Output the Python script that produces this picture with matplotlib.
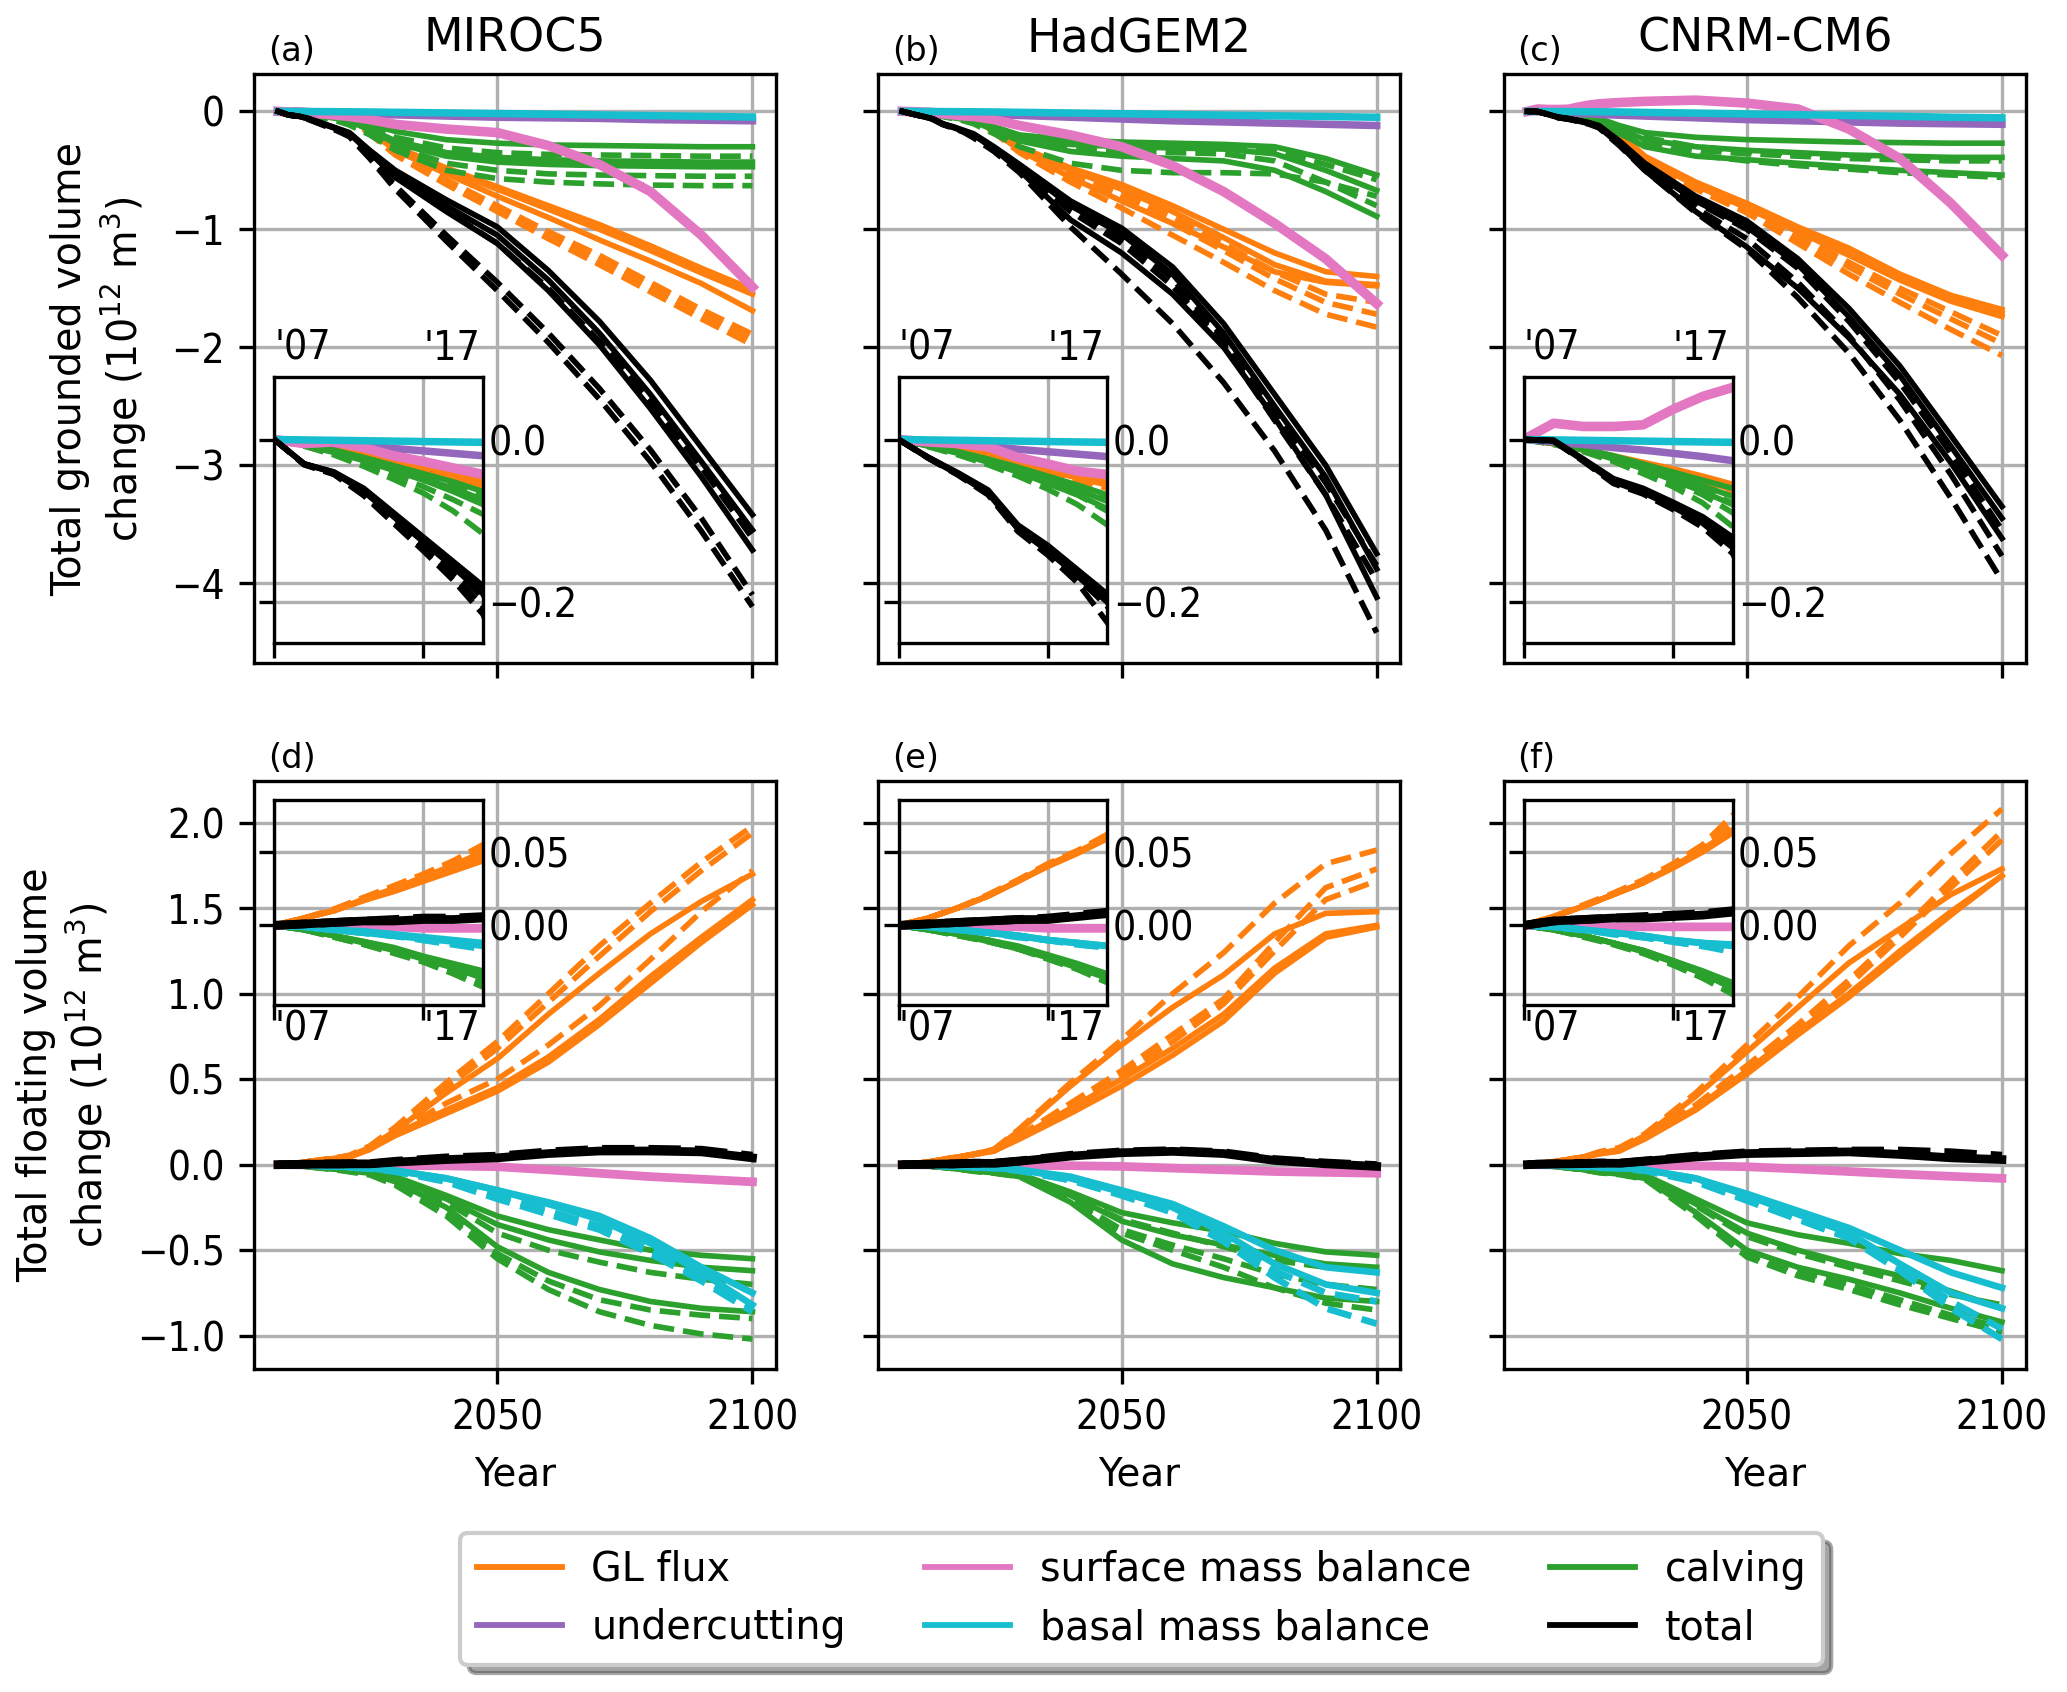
import matplotlib
matplotlib.use("Agg")
import matplotlib.pyplot as plt
from matplotlib import font_manager as fm

plt.rcParams['font.family'] = ['DejaVu Sans']

# ---------------- data ----------------
years = [2007, 2009, 2011, 2013, 2015, 2017, 2019, 2021, 2025, 2030,
         2040, 2050, 2060, 2070, 2080, 2090, 2100]
models = ['MIROC5', 'HadGEM2', 'CNRM-CM6']
letters = ['(a)', '(b)', '(c)', '(d)', '(e)', '(f)']
legend_labels = ['GL flux', 'undercutting', 'surface mass balance',
                 'basal mass balance', 'calving', 'total']

main_xticks = [2050, 2100]
main_xticklabels = ['2050', '2100']
top_yticks = [0, -1, -2, -3, -4]
top_yticklabels = ['0', '\u22121', '\u22122', '\u22123', '\u22124']
bot_yticks = [-1.0, -0.5, 0.0, 0.5, 1.0, 1.5, 2.0]
bot_yticklabels = ['\u22121.0', '\u22120.5', '0.0', '0.5', '1.0', '1.5', '2.0']
inset_xticks = [2007, 2017]
inset_xticklabels = ["'07", "'17"]
top_inset_yticks = [0.0, -0.2]
top_inset_yticklabels = ['0.0', '\u22120.2']
bot_inset_yticks = [0.0, 0.05]
bot_inset_yticklabels = ['0.00', '0.05']

# ---- (a) MIROC5 grounded ----
a_total_solid = [
    [0, -0.03, -0.04, -0.06, -0.09, -0.12, -0.15, -0.18, -0.33, -0.50, -0.75, -0.98, -1.35, -1.78, -2.28, -2.85, -3.42],
    [0, -0.03, -0.04, -0.062, -0.092, -0.123, -0.153, -0.185, -0.34, -0.53, -0.80, -1.05, -1.43, -1.88, -2.40, -2.97, -3.55],
    [0, -0.03, -0.041, -0.064, -0.095, -0.126, -0.157, -0.19, -0.35, -0.56, -0.85, -1.12, -1.52, -1.98, -2.52, -3.10, -3.72]]
a_total_dashed = [
    [0, -0.03, -0.041, -0.065, -0.096, -0.128, -0.16, -0.195, -0.35, -0.55, -0.84, -1.12, -1.50, -1.95, -2.46, -3.02, -3.62],
    [0, -0.031, -0.042, -0.067, -0.10, -0.133, -0.168, -0.205, -0.38, -0.63, -1.05, -1.45, -1.88, -2.35, -2.87, -3.45, -4.10],
    [0, -0.031, -0.043, -0.069, -0.103, -0.137, -0.173, -0.215, -0.40, -0.66, -1.10, -1.52, -1.96, -2.44, -2.97, -3.56, -4.20]]
a_gl_solid = [
    [0, -0.004, -0.010, -0.017, -0.024, -0.031, -0.040, -0.050, -0.15, -0.30, -0.48, -0.64, -0.80, -0.96, -1.14, -1.33, -1.51],
    [0, -0.004, -0.010, -0.018, -0.026, -0.034, -0.043, -0.053, -0.16, -0.31, -0.50, -0.66, -0.83, -1.00, -1.18, -1.37, -1.55],
    [0, -0.004, -0.011, -0.019, -0.027, -0.036, -0.046, -0.057, -0.17, -0.33, -0.53, -0.72, -0.90, -1.09, -1.27, -1.46, -1.69]]
a_gl_dashed = [
    [0, -0.004, -0.011, -0.019, -0.028, -0.037, -0.048, -0.060, -0.18, -0.35, -0.58, -0.80, -1.02, -1.22, -1.45, -1.68, -1.89],
    [0, -0.004, -0.011, -0.020, -0.029, -0.038, -0.049, -0.061, -0.185, -0.36, -0.60, -0.83, -1.05, -1.26, -1.49, -1.72, -1.93],
    [0, -0.004, -0.012, -0.020, -0.030, -0.039, -0.050, -0.062, -0.19, -0.37, -0.62, -0.85, -1.08, -1.30, -1.53, -1.76, -1.98]]
a_calv_solid = [
    [0, -0.006, -0.013, -0.022, -0.032, -0.042, -0.052, -0.064, -0.11, -0.17, -0.24, -0.27, -0.285, -0.29, -0.295, -0.30, -0.30],
    [0, -0.007, -0.015, -0.025, -0.036, -0.048, -0.060, -0.074, -0.15, -0.25, -0.35, -0.39, -0.41, -0.42, -0.425, -0.43, -0.43],
    [0, -0.007, -0.016, -0.026, -0.038, -0.050, -0.064, -0.080, -0.16, -0.27, -0.38, -0.43, -0.45, -0.46, -0.465, -0.47, -0.47]]
a_calv_dashed = [
    [0, -0.006, -0.014, -0.024, -0.035, -0.046, -0.058, -0.070, -0.13, -0.22, -0.31, -0.35, -0.365, -0.37, -0.375, -0.38, -0.38],
    [0, -0.008, -0.018, -0.030, -0.044, -0.058, -0.074, -0.092, -0.18, -0.30, -0.44, -0.50, -0.53, -0.54, -0.545, -0.55, -0.55],
    [0, -0.008, -0.019, -0.033, -0.049, -0.066, -0.088, -0.116, -0.20, -0.33, -0.50, -0.57, -0.60, -0.615, -0.625, -0.63, -0.63]]
a_smb = [0, -0.005, -0.003, -0.010, -0.020, -0.027, -0.035, -0.043, -0.07, -0.11, -0.15, -0.18, -0.29, -0.45, -0.68, -1.05, -1.49]
a_uc = [0, -0.002, -0.005, -0.008, -0.011, -0.014, -0.017, -0.020, -0.025, -0.03, -0.04, -0.05, -0.055, -0.06, -0.07, -0.075, -0.08]
a_bmb = [0, -0.0005, -0.001, -0.0015, -0.002, -0.0025, -0.003, -0.0035, -0.005, -0.008, -0.013, -0.018, -0.024, -0.03, -0.036, -0.042, -0.048]

# ---- (b) HadGEM2 grounded ----
b_total_solid = [
    [0, -0.022, -0.041, -0.062, -0.105, -0.130, -0.160, -0.190, -0.30, -0.45, -0.76, -0.99, -1.32, -1.80, -2.40, -3.00, -3.75],
    [0, -0.022, -0.042, -0.064, -0.108, -0.134, -0.165, -0.196, -0.31, -0.47, -0.80, -1.04, -1.38, -1.88, -2.50, -3.10, -3.88],
    [0, -0.023, -0.043, -0.066, -0.110, -0.137, -0.168, -0.200, -0.32, -0.50, -0.92, -1.20, -1.55, -2.00, -2.60, -3.25, -4.12]]
b_total_dashed = [
    [0, -0.022, -0.042, -0.064, -0.108, -0.135, -0.167, -0.200, -0.31, -0.47, -0.80, -1.07, -1.42, -1.92, -2.55, -3.15, -3.85],
    [0, -0.023, -0.043, -0.066, -0.110, -0.138, -0.170, -0.205, -0.32, -0.48, -0.85, -1.12, -1.48, -1.98, -2.62, -3.25, -3.98],
    [0, -0.023, -0.044, -0.068, -0.113, -0.142, -0.176, -0.225, -0.34, -0.52, -0.98, -1.38, -1.80, -2.30, -2.88, -3.55, -4.42]]
b_gl_solid = [
    [0, -0.005, -0.011, -0.018, -0.026, -0.035, -0.043, -0.050, -0.15, -0.30, -0.48, -0.62, -0.80, -1.00, -1.20, -1.36, -1.40],
    [0, -0.005, -0.011, -0.019, -0.028, -0.037, -0.045, -0.053, -0.16, -0.31, -0.50, -0.66, -0.85, -1.07, -1.30, -1.44, -1.47],
    [0, -0.005, -0.012, -0.020, -0.029, -0.039, -0.047, -0.056, -0.17, -0.33, -0.56, -0.76, -0.95, -1.15, -1.36, -1.45, -1.48]]
b_gl_dashed = [
    [0, -0.005, -0.011, -0.019, -0.028, -0.038, -0.046, -0.055, -0.16, -0.32, -0.52, -0.70, -0.90, -1.12, -1.36, -1.55, -1.62],
    [0, -0.005, -0.012, -0.020, -0.029, -0.039, -0.048, -0.057, -0.17, -0.33, -0.55, -0.74, -0.95, -1.18, -1.42, -1.62, -1.72],
    [0, -0.005, -0.012, -0.021, -0.030, -0.040, -0.050, -0.060, -0.18, -0.35, -0.60, -0.82, -1.05, -1.28, -1.52, -1.72, -1.83]]
b_calv_solid = [
    [0, -0.007, -0.015, -0.024, -0.034, -0.045, -0.056, -0.068, -0.13, -0.20, -0.24, -0.26, -0.27, -0.28, -0.30, -0.40, -0.54],
    [0, -0.008, -0.016, -0.026, -0.037, -0.050, -0.062, -0.076, -0.14, -0.22, -0.28, -0.30, -0.31, -0.32, -0.36, -0.50, -0.67],
    [0, -0.008, -0.017, -0.028, -0.040, -0.054, -0.068, -0.085, -0.16, -0.25, -0.34, -0.38, -0.40, -0.42, -0.50, -0.68, -0.89]]
b_calv_dashed = [
    [0, -0.007, -0.016, -0.025, -0.036, -0.048, -0.060, -0.072, -0.135, -0.21, -0.26, -0.28, -0.29, -0.30, -0.33, -0.45, -0.58],
    [0, -0.008, -0.017, -0.028, -0.040, -0.054, -0.068, -0.088, -0.15, -0.24, -0.31, -0.34, -0.35, -0.36, -0.42, -0.60, -0.80],
    [0, -0.009, -0.019, -0.031, -0.045, -0.061, -0.080, -0.105, -0.19, -0.30, -0.44, -0.50, -0.52, -0.52, -0.53, -0.60, -0.72]]
b_smb = [0, -0.003, -0.005, -0.009, -0.022, -0.030, -0.039, -0.043, -0.07, -0.12, -0.20, -0.30, -0.46, -0.68, -0.95, -1.25, -1.63]
b_uc = [0, -0.002, -0.005, -0.008, -0.012, -0.015, -0.018, -0.021, -0.028, -0.035, -0.05, -0.065, -0.08, -0.09, -0.10, -0.11, -0.12]
b_bmb = [0, -0.0005, -0.001, -0.0015, -0.002, -0.0025, -0.003, -0.0035, -0.005, -0.008, -0.014, -0.02, -0.026, -0.032, -0.038, -0.044, -0.05]

# ---- (c) CNRM-CM6 grounded ----
c_total_solid = [
    [0, -0.001, -0.024, -0.048, -0.060, -0.077, -0.095, -0.120, -0.25, -0.44, -0.72, -0.93, -1.25, -1.67, -2.16, -2.75, -3.35],
    [0, -0.001, -0.025, -0.050, -0.062, -0.079, -0.098, -0.125, -0.26, -0.46, -0.76, -0.98, -1.30, -1.74, -2.24, -2.84, -3.45],
    [0, -0.002, -0.026, -0.052, -0.065, -0.083, -0.103, -0.133, -0.28, -0.50, -0.85, -1.15, -1.50, -1.92, -2.40, -2.98, -3.62]]
c_total_dashed = [
    [0, -0.001, -0.025, -0.050, -0.062, -0.080, -0.100, -0.128, -0.26, -0.46, -0.77, -1.00, -1.33, -1.78, -2.30, -2.90, -3.55],
    [0, -0.002, -0.026, -0.052, -0.064, -0.082, -0.103, -0.133, -0.27, -0.48, -0.82, -1.08, -1.45, -1.90, -2.45, -3.08, -3.77],
    [0, -0.002, -0.027, -0.054, -0.067, -0.086, -0.108, -0.140, -0.29, -0.50, -0.86, -1.17, -1.58, -2.05, -2.62, -3.28, -3.98]]
c_gl_solid = [
    [0, -0.005, -0.012, -0.020, -0.028, -0.036, -0.045, -0.055, -0.18, -0.38, -0.60, -0.78, -0.98, -1.16, -1.38, -1.56, -1.68],
    [0, -0.005, -0.012, -0.021, -0.029, -0.038, -0.047, -0.058, -0.19, -0.39, -0.62, -0.80, -1.00, -1.20, -1.40, -1.58, -1.71],
    [0, -0.005, -0.013, -0.022, -0.031, -0.040, -0.050, -0.062, -0.19, -0.40, -0.63, -0.82, -1.02, -1.22, -1.43, -1.61, -1.74]]
c_gl_dashed = [
    [0, -0.005, -0.013, -0.022, -0.031, -0.041, -0.051, -0.063, -0.19, -0.39, -0.62, -0.82, -1.05, -1.28, -1.50, -1.70, -1.90],
    [0, -0.005, -0.013, -0.023, -0.032, -0.042, -0.053, -0.065, -0.20, -0.40, -0.64, -0.84, -1.08, -1.32, -1.55, -1.76, -1.97],
    [0, -0.006, -0.014, -0.024, -0.034, -0.044, -0.055, -0.068, -0.21, -0.42, -0.66, -0.86, -1.12, -1.38, -1.62, -1.85, -2.07]]
c_calv_solid = [
    [0, -0.004, -0.011, -0.020, -0.030, -0.040, -0.050, -0.060, -0.12, -0.18, -0.22, -0.24, -0.25, -0.26, -0.265, -0.27, -0.27],
    [0, -0.004, -0.012, -0.022, -0.033, -0.045, -0.057, -0.070, -0.15, -0.24, -0.30, -0.33, -0.35, -0.37, -0.38, -0.39, -0.39],
    [0, -0.005, -0.013, -0.024, -0.036, -0.050, -0.064, -0.080, -0.18, -0.30, -0.38, -0.41, -0.44, -0.47, -0.50, -0.52, -0.54]]
c_calv_dashed = [
    [0, -0.005, -0.013, -0.023, -0.035, -0.048, -0.062, -0.078, -0.15, -0.22, -0.30, -0.34, -0.36, -0.38, -0.39, -0.40, -0.40],
    [0, -0.005, -0.014, -0.025, -0.038, -0.052, -0.068, -0.090, -0.16, -0.25, -0.33, -0.36, -0.38, -0.40, -0.41, -0.42, -0.42],
    [0, -0.006, -0.015, -0.027, -0.042, -0.058, -0.078, -0.107, -0.19, -0.28, -0.37, -0.42, -0.46, -0.49, -0.52, -0.54, -0.56]]
c_smb = [0, 0.020, 0.016, 0.016, 0.018, 0.037, 0.053, 0.064, 0.075, 0.085, 0.095, 0.07, 0.02, -0.15, -0.40, -0.78, -1.22]
c_uc = [0, -0.003, -0.006, -0.010, -0.013, -0.017, -0.021, -0.026, -0.033, -0.04, -0.055, -0.07, -0.08, -0.09, -0.10, -0.105, -0.11]
c_bmb = [0, -0.0005, -0.001, -0.0015, -0.002, -0.0025, -0.003, -0.0035, -0.005, -0.009, -0.015, -0.022, -0.028, -0.035, -0.042, -0.05, -0.055]

# ---- (d) MIROC5 floating ----
d_gl_solid = [
    [0, 0.005, 0.010, 0.018, 0.025, 0.033, 0.041, 0.050, 0.10, 0.20, 0.42, 0.62, 0.88, 1.12, 1.35, 1.54, 1.70],
    [0, 0.005, 0.010, 0.017, 0.024, 0.031, 0.038, 0.046, 0.09, 0.18, 0.32, 0.45, 0.63, 0.85, 1.10, 1.33, 1.55],
    [0, 0.005, 0.010, 0.017, 0.023, 0.030, 0.037, 0.044, 0.09, 0.17, 0.30, 0.43, 0.60, 0.82, 1.06, 1.30, 1.52]]
d_gl_dashed = [
    [0, 0.005, 0.011, 0.019, 0.027, 0.035, 0.044, 0.055, 0.11, 0.22, 0.48, 0.72, 1.00, 1.28, 1.53, 1.77, 1.98],
    [0, 0.005, 0.011, 0.019, 0.026, 0.034, 0.043, 0.053, 0.10, 0.21, 0.45, 0.68, 0.95, 1.22, 1.48, 1.72, 1.94],
    [0, 0.005, 0.010, 0.018, 0.025, 0.032, 0.040, 0.048, 0.09, 0.19, 0.36, 0.50, 0.70, 0.93, 1.20, 1.48, 1.72]]
d_calv_solid = [
    [0, -0.003, -0.007, -0.011, -0.015, -0.021, -0.026, -0.031, -0.04, -0.07, -0.18, -0.30, -0.38, -0.44, -0.50, -0.53, -0.55],
    [0, -0.003, -0.007, -0.011, -0.016, -0.022, -0.027, -0.033, -0.045, -0.08, -0.20, -0.35, -0.44, -0.51, -0.56, -0.60, -0.62],
    [0, -0.003, -0.007, -0.012, -0.017, -0.023, -0.029, -0.036, -0.05, -0.10, -0.25, -0.48, -0.63, -0.73, -0.80, -0.84, -0.86]]
d_calv_dashed = [
    [0, -0.003, -0.007, -0.012, -0.017, -0.023, -0.029, -0.036, -0.05, -0.09, -0.22, -0.40, -0.50, -0.57, -0.63, -0.67, -0.70],
    [0, -0.003, -0.008, -0.013, -0.018, -0.024, -0.031, -0.039, -0.055, -0.11, -0.28, -0.52, -0.68, -0.79, -0.85, -0.88, -0.90],
    [0, -0.003, -0.008, -0.013, -0.019, -0.025, -0.033, -0.042, -0.06, -0.12, -0.30, -0.55, -0.73, -0.86, -0.94, -0.99, -1.02]]
d_bmb_solid = [
    [0, -0.001, -0.003, -0.004, -0.006, -0.008, -0.010, -0.012, -0.02, -0.035, -0.08, -0.15, -0.22, -0.30, -0.43, -0.60, -0.75],
    [0, -0.001, -0.003, -0.005, -0.007, -0.009, -0.011, -0.014, -0.02, -0.035, -0.08, -0.15, -0.23, -0.32, -0.46, -0.63, -0.82]]
d_bmb_dashed = [
    [0, -0.001, -0.003, -0.005, -0.007, -0.009, -0.012, -0.015, -0.022, -0.04, -0.09, -0.18, -0.27, -0.36, -0.50, -0.66, -0.84],
    [0, -0.001, -0.003, -0.005, -0.007, -0.010, -0.013, -0.016, -0.024, -0.04, -0.10, -0.20, -0.29, -0.38, -0.52, -0.68, -0.86]]
d_smb = [0, 0, -0.001, -0.001, -0.001, -0.002, -0.002, -0.002, -0.003, -0.005, -0.007, -0.012, -0.03, -0.05, -0.07, -0.085, -0.10]
d_total_solid = [0, 0.001, 0.002, 0.003, 0.003, 0.004, 0.004, 0.005, 0.005, 0.015, 0.03, 0.04, 0.065, 0.08, 0.08, 0.075, 0.04]
d_total_dashed = [0, 0.001, 0.002, 0.003, 0.004, 0.005, 0.005, 0.006, 0.006, 0.02, 0.04, 0.05, 0.075, 0.09, 0.09, 0.085, 0.05]

# ---- (e) HadGEM2 floating ----
e_gl_solid = [
    [0, 0.005, 0.012, 0.020, 0.030, 0.041, 0.050, 0.060, 0.09, 0.20, 0.46, 0.70, 0.92, 1.11, 1.35, 1.47, 1.48],
    [0, 0.005, 0.012, 0.020, 0.030, 0.041, 0.050, 0.060, 0.08, 0.16, 0.33, 0.50, 0.68, 0.88, 1.15, 1.35, 1.40],
    [0, 0.005, 0.012, 0.020, 0.030, 0.040, 0.049, 0.059, 0.08, 0.15, 0.30, 0.46, 0.64, 0.84, 1.12, 1.33, 1.39]]
e_gl_dashed = [
    [0, 0.005, 0.012, 0.021, 0.031, 0.042, 0.051, 0.062, 0.09, 0.21, 0.48, 0.73, 1.00, 1.24, 1.53, 1.76, 1.84],
    [0, 0.005, 0.012, 0.020, 0.030, 0.041, 0.050, 0.060, 0.08, 0.17, 0.36, 0.55, 0.76, 0.97, 1.30, 1.62, 1.73],
    [0, 0.005, 0.012, 0.020, 0.030, 0.041, 0.050, 0.060, 0.08, 0.16, 0.34, 0.52, 0.72, 0.94, 1.25, 1.55, 1.66]]
e_calv_solid = [
    [0, -0.003, -0.006, -0.010, -0.014, -0.020, -0.026, -0.033, -0.042, -0.055, -0.16, -0.28, -0.34, -0.39, -0.46, -0.51, -0.53],
    [0, -0.003, -0.006, -0.010, -0.015, -0.021, -0.027, -0.034, -0.044, -0.06, -0.18, -0.33, -0.41, -0.47, -0.53, -0.58, -0.60],
    [0, -0.003, -0.006, -0.011, -0.016, -0.022, -0.029, -0.036, -0.048, -0.07, -0.22, -0.44, -0.58, -0.66, -0.72, -0.78, -0.80]]
e_calv_dashed = [
    [0, -0.003, -0.006, -0.010, -0.015, -0.021, -0.028, -0.035, -0.046, -0.06, -0.18, -0.32, -0.40, -0.48, -0.56, -0.60, -0.62],
    [0, -0.003, -0.007, -0.011, -0.016, -0.022, -0.029, -0.037, -0.048, -0.065, -0.20, -0.38, -0.47, -0.55, -0.64, -0.70, -0.73],
    [0, -0.003, -0.007, -0.011, -0.016, -0.023, -0.030, -0.039, -0.05, -0.07, -0.21, -0.40, -0.50, -0.60, -0.72, -0.81, -0.85]]
e_bmb_solid = [
    [0, -0.001, -0.003, -0.005, -0.007, -0.010, -0.012, -0.014, -0.018, -0.03, -0.07, -0.15, -0.23, -0.36, -0.50, -0.60, -0.63],
    [0, -0.001, -0.003, -0.005, -0.007, -0.010, -0.012, -0.014, -0.018, -0.03, -0.08, -0.16, -0.25, -0.40, -0.58, -0.70, -0.75]]
e_bmb_dashed = [
    [0, -0.001, -0.003, -0.005, -0.007, -0.010, -0.012, -0.015, -0.02, -0.035, -0.09, -0.17, -0.27, -0.43, -0.62, -0.75, -0.80],
    [0, -0.001, -0.003, -0.005, -0.008, -0.010, -0.013, -0.015, -0.02, -0.035, -0.09, -0.18, -0.28, -0.45, -0.66, -0.84, -0.93]]
e_smb = [0, 0, -0.001, -0.001, -0.001, -0.002, -0.002, -0.002, -0.003, -0.004, -0.006, -0.01, -0.02, -0.03, -0.04, -0.045, -0.05]
e_total_solid = [0, 0.001, 0.002, 0.003, 0.004, 0.004, 0.006, 0.008, 0.008, 0.02, 0.05, 0.07, 0.078, 0.065, 0.025, 0.005, -0.01]
e_total_dashed = [0, 0.001, 0.002, 0.003, 0.004, 0.005, 0.007, 0.009, 0.009, 0.022, 0.055, 0.075, 0.082, 0.07, 0.03, 0.01, -0.005]

# ---- (f) CNRM-CM6 floating ----
f_gl_solid = [
    [0, 0.006, 0.013, 0.021, 0.029, 0.040, 0.052, 0.065, 0.09, 0.17, 0.40, 0.66, 0.92, 1.18, 1.38, 1.58, 1.73],
    [0, 0.006, 0.013, 0.021, 0.029, 0.040, 0.051, 0.064, 0.08, 0.16, 0.33, 0.55, 0.78, 1.00, 1.25, 1.48, 1.69],
    [0, 0.006, 0.013, 0.021, 0.029, 0.039, 0.050, 0.063, 0.08, 0.15, 0.32, 0.53, 0.76, 0.98, 1.22, 1.46, 1.69]]
f_gl_dashed = [
    [0, 0.006, 0.014, 0.022, 0.031, 0.042, 0.055, 0.075, 0.10, 0.18, 0.42, 0.70, 0.98, 1.28, 1.53, 1.82, 2.08],
    [0, 0.006, 0.013, 0.021, 0.030, 0.041, 0.053, 0.070, 0.09, 0.16, 0.35, 0.58, 0.82, 1.08, 1.36, 1.66, 1.95],
    [0, 0.006, 0.013, 0.021, 0.030, 0.040, 0.052, 0.068, 0.09, 0.16, 0.34, 0.56, 0.80, 1.05, 1.33, 1.62, 1.90]]
f_calv_solid = [
    [0, -0.003, -0.007, -0.012, -0.017, -0.024, -0.031, -0.039, -0.045, -0.06, -0.20, -0.34, -0.41, -0.46, -0.52, -0.56, -0.62],
    [0, -0.003, -0.007, -0.012, -0.017, -0.024, -0.032, -0.041, -0.05, -0.07, -0.23, -0.40, -0.50, -0.58, -0.65, -0.74, -0.84],
    [0, -0.003, -0.007, -0.012, -0.018, -0.025, -0.033, -0.043, -0.055, -0.08, -0.28, -0.50, -0.60, -0.67, -0.75, -0.84, -0.92]]
f_calv_dashed = [
    [0, -0.003, -0.007, -0.012, -0.018, -0.025, -0.033, -0.042, -0.05, -0.07, -0.24, -0.42, -0.52, -0.60, -0.68, -0.76, -0.82],
    [0, -0.003, -0.007, -0.013, -0.019, -0.026, -0.035, -0.045, -0.055, -0.08, -0.29, -0.52, -0.62, -0.70, -0.79, -0.88, -0.95],
    [0, -0.003, -0.008, -0.013, -0.019, -0.027, -0.036, -0.047, -0.058, -0.085, -0.30, -0.54, -0.65, -0.73, -0.82, -0.90, -0.98]]
f_bmb_solid = [
    [0, -0.001, -0.003, -0.005, -0.007, -0.010, -0.012, -0.013, -0.018, -0.03, -0.08, -0.17, -0.27, -0.37, -0.50, -0.63, -0.72],
    [0, -0.001, -0.003, -0.005, -0.007, -0.010, -0.012, -0.014, -0.018, -0.03, -0.08, -0.18, -0.29, -0.40, -0.58, -0.75, -0.84]]
f_bmb_dashed = [
    [0, -0.001, -0.003, -0.005, -0.008, -0.011, -0.014, -0.016, -0.02, -0.035, -0.09, -0.20, -0.31, -0.42, -0.60, -0.80, -0.96],
    [0, -0.001, -0.003, -0.006, -0.008, -0.011, -0.014, -0.018, -0.022, -0.035, -0.10, -0.21, -0.32, -0.43, -0.62, -0.84, -1.02]]
f_smb = [0, 0, -0.001, -0.001, -0.001, -0.001, -0.001, -0.001, -0.002, -0.004, -0.007, -0.012, -0.025, -0.04, -0.055, -0.068, -0.08]
f_total_solid = [0, 0.003, 0.004, 0.005, 0.005, 0.006, 0.007, 0.009, 0.008, 0.02, 0.045, 0.065, 0.07, 0.075, 0.06, 0.04, 0.03]
f_total_dashed = [0, 0.003, 0.004, 0.005, 0.006, 0.007, 0.008, 0.010, 0.009, 0.022, 0.05, 0.07, 0.075, 0.08, 0.08, 0.07, 0.05]

# ---------------- styling ----------------
C_GL = '#ff7f0e'
C_UC = '#9467bd'
C_SMB = '#e377c2'
C_BMB = '#17becf'
C_CALV = '#2ca02c'
C_TOT = 'black'
LW = 1.35

top_panels = [
    [(C_GL, a_gl_solid, a_gl_dashed, LW), (C_CALV, a_calv_solid, a_calv_dashed, LW),
     (C_UC, [a_uc], [], 1.8), (C_SMB, [a_smb], [], 2.3), (C_BMB, [a_bmb], [], 1.8),
     (C_TOT, a_total_solid, a_total_dashed, LW)],
    [(C_GL, b_gl_solid, b_gl_dashed, LW), (C_CALV, b_calv_solid, b_calv_dashed, LW),
     (C_UC, [b_uc], [], 1.8), (C_SMB, [b_smb], [], 2.3), (C_BMB, [b_bmb], [], 1.8),
     (C_TOT, b_total_solid, b_total_dashed, LW)],
    [(C_GL, c_gl_solid, c_gl_dashed, LW), (C_CALV, c_calv_solid, c_calv_dashed, LW),
     (C_UC, [c_uc], [], 1.8), (C_SMB, [c_smb], [], 2.3), (C_BMB, [c_bmb], [], 1.8),
     (C_TOT, c_total_solid, c_total_dashed, LW)],
]
bottom_panels = [
    [(C_GL, d_gl_solid, d_gl_dashed, LW), (C_CALV, d_calv_solid, d_calv_dashed, LW),
     (C_SMB, [d_smb], [], 2.1), (C_BMB, d_bmb_solid, d_bmb_dashed, 1.6),
     (C_TOT, [d_total_solid], [d_total_dashed], 2.1)],
    [(C_GL, e_gl_solid, e_gl_dashed, LW), (C_CALV, e_calv_solid, e_calv_dashed, LW),
     (C_SMB, [e_smb], [], 2.1), (C_BMB, e_bmb_solid, e_bmb_dashed, 1.6),
     (C_TOT, [e_total_solid], [e_total_dashed], 2.1)],
    [(C_GL, f_gl_solid, f_gl_dashed, LW), (C_CALV, f_calv_solid, f_calv_dashed, LW),
     (C_SMB, [f_smb], [], 2.1), (C_BMB, f_bmb_solid, f_bmb_dashed, 1.6),
     (C_TOT, [f_total_solid], [f_total_dashed], 2.1)],
]

# tick labels in the reference are narrow: use condensed DejaVu for them if present
condensed = False
try:
    _p = fm.findfont(fm.FontProperties(family='DejaVu Sans', stretch='condensed'),
                     fallback_to_default=False)
    condensed = 'Condensed' in _p
except Exception:
    condensed = False
if condensed:
    TK = dict(fontstretch='condensed')
    TICK_FS, INSET_FS = 9.7, 9.8
else:
    TK = {}
    TICK_FS, INSET_FS = 8.8, 8.9
FS = dict(title=11.0, ylabel=9.5, xlabel=9.3, letter=8.1, legend=9.5)

fig = plt.figure(figsize=(6.89, 5.64), dpi=300)

lefts = [0.123, 0.425, 0.7275]
width = 0.2525
height = 0.348
bottoms = [0.608, 0.1907]


def draw(ax, groups):
    for color, solids, dashes, lw in groups:
        for s in solids:
            ax.plot(years, s, color=color, lw=lw, ls='-')
        for d in dashes:
            ax.plot(years, d, color=color, lw=lw, ls='--')


for row in range(2):
    for col in range(3):
        ax = fig.add_axes([lefts[col], bottoms[row], width, height])
        groups = top_panels[col] if row == 0 else bottom_panels[col]
        draw(ax, groups)
        ax.set_xlim(2002.35, 2104.65)
        ax.grid(True, color='#b0b0b0', lw=0.8)
        ax.set_axisbelow(True)
        ax.set_xticks(main_xticks, main_xticklabels, fontsize=TICK_FS, **TK)
        if row == 0:
            ax.set_ylim(-4.68, 0.313)
            ax.set_yticks(top_yticks, top_yticklabels, fontsize=TICK_FS, **TK)
            ax.tick_params(axis='x', labelbottom=False)
            ax.set_title(models[col], fontsize=FS['title'], pad=5.5)
        else:
            ax.set_ylim(-1.197, 2.247)
            ax.set_yticks(bot_yticks, bot_yticklabels, fontsize=TICK_FS, **TK)
            ax.set_xlabel('Year', fontsize=FS['xlabel'])
        if col != 0:
            ax.tick_params(axis='y', labelleft=False)
        else:
            if row == 0:
                ax.set_ylabel('Total grounded volume\nchange (10$^{12}$ m$^3$)',
                              fontsize=FS['ylabel'], labelpad=5.5)
            else:
                ax.set_ylabel('Total floating volume\nchange (10$^{12}$ m$^3$)',
                              fontsize=FS['ylabel'], labelpad=5.5)
        ax.text(0.026, 1.022, letters[row * 3 + col], transform=ax.transAxes,
                fontsize=FS['letter'], va='baseline', ha='left')

        # inset
        if row == 0:
            ins = ax.inset_axes([0.0385, 0.034, 0.40, 0.452])
            ins.set_ylim(-0.2504, 0.0767)
            ins.tick_params(axis='x', bottom=True, top=False, labelbottom=False,
                            labeltop=True, pad=-1.5)
            yt, ytl = top_inset_yticks, top_inset_yticklabels
        else:
            ins = ax.inset_axes([0.0385, 0.619, 0.40, 0.348])
            ins.set_ylim(-0.0541, 0.0854)
            ins.tick_params(axis='x', bottom=True, top=False, labelbottom=True,
                            labeltop=False, pad=-2.4)
            yt, ytl = bot_inset_yticks, bot_inset_yticklabels
        draw(ins, groups)
        ins.set_facecolor('none')
        ins.set_xlim(2007, 2021)
        ins.tick_params(axis='y', left=True, right=False, labelleft=False,
                        labelright=True, pad=-2.2)
        ins.set_xticks(inset_xticks, inset_xticklabels, ha='left',
                       fontsize=INSET_FS, **TK)
        ins.set_yticks(yt, ytl, fontsize=INSET_FS, **TK)
        ins.grid(True, color='#b0b0b0', lw=0.8)

# legend
handles = [plt.Line2D([], [], color=c, lw=1.4) for c in
           [C_GL, C_UC, C_SMB, C_BMB, C_CALV, C_TOT]]
fig.legend(handles, legend_labels, ncol=3, loc='center',
           bbox_to_anchor=(0.5523, 0.055), fontsize=FS['legend'], shadow=True,
           fancybox=True, framealpha=1, handlelength=2.15, handletextpad=0.74,
           columnspacing=2.0, labelspacing=0.46, borderpad=0.42,
           edgecolor='#cccccc')

fig.savefig('out.png', dpi=300)
